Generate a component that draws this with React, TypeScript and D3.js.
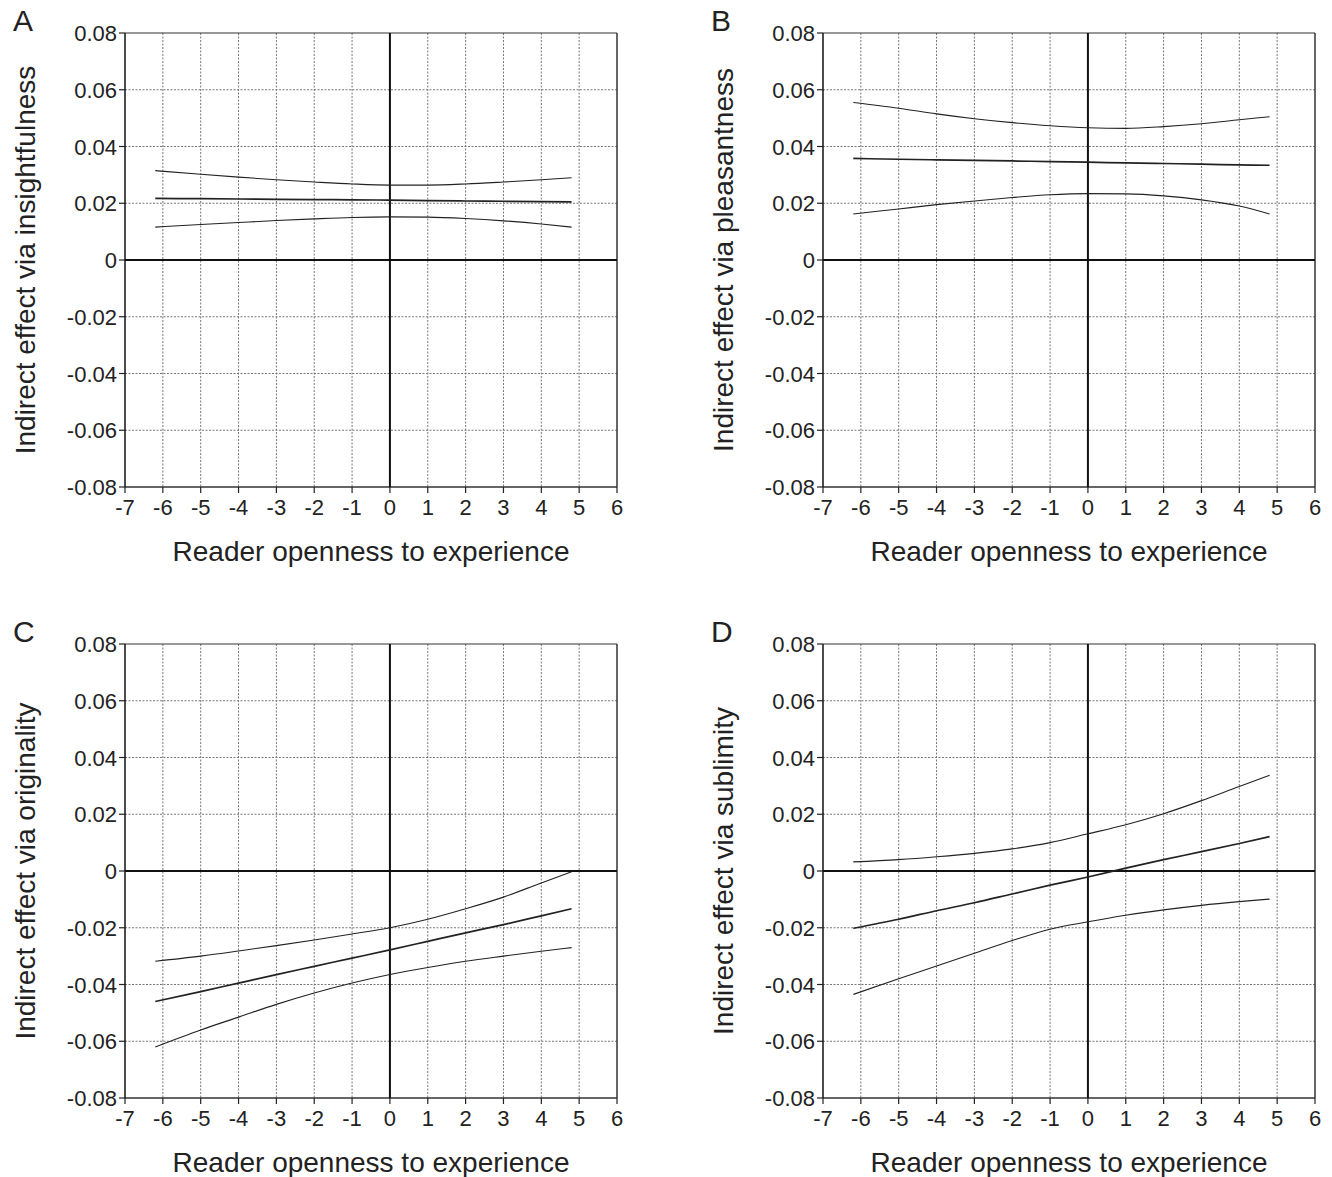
import React from "react";
import * as d3 from "d3";

const xs = [-6.2, -5, -4, -3, -2, -1, 0, 1, 2, 3, 4, 4.8];
const xTicks = [-7, -6, -5, -4, -3, -2, -1, 0, 1, 2, 3, 4, 5, 6];
const yTicks = [-0.08, -0.06, -0.04, -0.02, 0, 0.02, 0.04, 0.06, 0.08];
const yTickLabels = ["-0.08", "-0.06", "-0.04", "-0.02", "0", "0.02", "0.04", "0.06", "0.08"];
const panelLetters = ["A", "B", "C", "D"];
const yTitles = [
  "Indirect effect via insightfulness",
  "Indirect effect via pleasantness",
  "Indirect effect via originality",
  "Indirect effect via sublimity",
];
const xTitle = "Reader openness to experience";

const aUpper = [0.0315, 0.0302, 0.0292, 0.0283, 0.0275, 0.0268, 0.0264, 0.0264, 0.0268, 0.0275, 0.0283, 0.029];
const aMid = [0.0217, 0.0216, 0.0215, 0.0214, 0.0213, 0.0212, 0.0211, 0.0209, 0.0208, 0.0207, 0.0206, 0.0205];
const aLower = [0.0116, 0.0125, 0.0132, 0.0139, 0.0145, 0.015, 0.0152, 0.0151, 0.0146, 0.0138, 0.0127, 0.0116];

const bUpper = [0.0555, 0.0535, 0.0515, 0.0498, 0.0484, 0.0473, 0.0466, 0.0464, 0.047, 0.048, 0.0494, 0.0505];
const bMid = [0.0358, 0.0355, 0.0353, 0.0351, 0.0349, 0.0347, 0.0345, 0.0342, 0.034, 0.0338, 0.0335, 0.0334];
const bLower = [0.0162, 0.018, 0.0195, 0.0208, 0.022, 0.023, 0.0234, 0.0233, 0.0226, 0.0212, 0.019, 0.0162];

const cUpper = [-0.0318, -0.03, -0.0282, -0.0263, -0.0243, -0.0222, -0.02, -0.017, -0.0133, -0.0092, -0.0042, -0.0003];
const cMid = [-0.046, -0.0425, -0.0395, -0.0365, -0.0336, -0.0307, -0.0278, -0.0248, -0.0218, -0.0189, -0.0158, -0.0133];
const cLower = [-0.062, -0.056, -0.0515, -0.047, -0.043, -0.0395, -0.0365, -0.034, -0.0318, -0.03, -0.0283, -0.027];

const dUpper = [0.0032, 0.004, 0.005, 0.0062, 0.0078, 0.01, 0.0131, 0.0163, 0.0202, 0.0248, 0.0298, 0.0337];
const dMid = [-0.0202, -0.017, -0.014, -0.0112, -0.0081, -0.005, -0.0021, 0.001, 0.004, 0.0068, 0.0097, 0.0121];
const dLower = [-0.0435, -0.038, -0.0335, -0.029, -0.0245, -0.0205, -0.0179, -0.0156, -0.0137, -0.0121, -0.0108, -0.0099];

const panelSeries = [
  [aUpper, aMid, aLower],
  [bUpper, bMid, bLower],
  [cUpper, cMid, cLower],
  [dUpper, dMid, dLower],
];

const FONT = "'Liberation Sans', Arial, Helvetica, sans-serif";

function Panel({ idx }: { idx: number }) {
  const ox = (idx % 2) * 698;
  const oy = Math.floor(idx / 2) * 611;
  const left = 125, right = 617, top = 33, bottom = 487;
  const x = d3.scaleLinear().domain([-7, 6]).range([left, right]);
  const y = d3.scaleLinear().domain([-0.08, 0.08]).range([bottom, top]);
  const line = d3
    .line<number>()
    .x((_, i) => x(xs[i]))
    .y((d) => y(d))
    .curve(d3.curveMonotoneX);
  const series = panelSeries[idx];
  return (
    <g transform={`translate(${ox},${oy})`}>
      {/* grid */}
      {xTicks.filter((t) => t !== -7 && t !== 6 && t !== 0).map((t) => (
        <line key={"gx" + t} x1={x(t)} x2={x(t)} y1={top} y2={bottom} stroke="#777" strokeWidth={1} strokeDasharray="2,1.5" />
      ))}
      {yTicks.filter((t) => t !== -0.08 && t !== 0.08 && t !== 0).map((t) => (
        <line key={"gy" + t} x1={left} x2={right} y1={y(t)} y2={y(t)} stroke="#777" strokeWidth={1} strokeDasharray="2,1.5" />
      ))}
      {/* frame */}
      <line x1={left} x2={right} y1={top} y2={top} stroke="#333" strokeWidth={1.2} />
      <line x1={right} x2={right} y1={top} y2={bottom} stroke="#333" strokeWidth={1.5} />
      <line x1={left} x2={right} y1={bottom} y2={bottom} stroke="#333" strokeWidth={1.5} />
      <line x1={left} x2={left} y1={top} y2={bottom} stroke="#111" strokeWidth={1.5} />
      {/* zero lines */}
      <line x1={left} x2={right} y1={y(0)} y2={y(0)} stroke="#111" strokeWidth={2} />
      <line x1={x(0)} x2={x(0)} y1={top} y2={bottom} stroke="#111" strokeWidth={2} />
      {/* ticks */}
      {xTicks.map((t) => (
        <g key={"xt" + t}>
          <line x1={x(t)} x2={x(t)} y1={bottom} y2={bottom + 6} stroke="#222" strokeWidth={1.2} />
          <text x={x(t)} y={bottom + 28} textAnchor="middle" fontSize={22} fontFamily={FONT} fill="#222">
            {t}
          </text>
        </g>
      ))}
      {yTicks.map((t, i) => (
        <g key={"yt" + t}>
          <line x1={left - 6} x2={left} y1={y(t)} y2={y(t)} stroke="#222" strokeWidth={1.2} />
          <text x={left - 8} y={y(t) + 8} textAnchor="end" fontSize={22} fontFamily={FONT} fill="#222">
            {yTickLabels[i]}
          </text>
        </g>
      ))}
      {/* data */}
      {series.map((s, i) => (
        <path key={"s" + i} d={line(s) || ""} fill="none" stroke="#222" strokeWidth={i === 1 ? 1.7 : 1.1} />
      ))}
      {/* titles */}
      <text x={(left + right) / 2} y={561} textAnchor="middle" fontSize={28} fontFamily={FONT} fill="#222">
        {xTitle}
      </text>
      <text
        transform={`translate(35,${(top + bottom) / 2}) rotate(-90)`}
        textAnchor="middle"
        fontSize={28}
        fontFamily={FONT}
        fill="#222"
      >
        {yTitles[idx]}
      </text>
      <text x={13} y={31} fontSize={30} fontFamily={FONT} fill="#222">
        {panelLetters[idx]}
      </text>
    </g>
  );
}

export default function App() {
  return (
    <svg
      width={1332}
      height={1177}
      style={{ position: "absolute", left: 0, top: 0, background: "#fff" }}
    >
      <rect width={1332} height={1177} fill="#fff" />
      {[0, 1, 2, 3].map((i) => (
        <Panel key={i} idx={i} />
      ))}
    </svg>
  );
}
